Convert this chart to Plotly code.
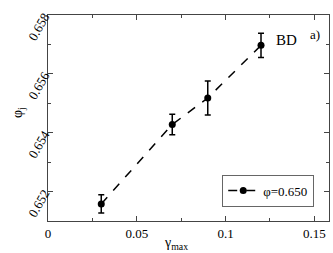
import plotly.graph_objects as go

gamma_max = [0.03, 0.07, 0.09, 0.12]
phi_j = [0.65158, 0.65428, 0.65518, 0.65697]
phi_err = [0.00031, 0.00035, 0.00058, 0.00041]
series_name = "\u03c6=0.650"

FAM = "Liberation Serif"
font = dict(family=FAM, size=13, color="black")

fig = go.Figure()
fig.add_trace(go.Scatter(
    x=gamma_max, y=phi_j, mode="lines+markers", name=series_name,
    line=dict(color="black", width=1.5, dash="dash"),
    marker=dict(color="black", size=7),
    error_y=dict(type="data", array=phi_err, color="black", thickness=1.5, width=3),
))

axis_common = dict(
    showline=True, linecolor="#444", linewidth=1, mirror="allticks",
    ticks="inside", ticklen=5, tickcolor="#444", showgrid=False, zeroline=False,
    tickfont=dict(family=FAM, size=13, color="#000000"), automargin=False,
)
fig.update_xaxes(range=[0, 0.1583], tickvals=[0, 0.05, 0.1, 0.15],
                 ticktext=["0", "0.05", "0.1", "0.15"],
                 minor=dict(ticks="inside", ticklen=3, dtick=0.025, tick0=0, tickcolor="#444"),
                 **axis_common)
fig.update_yaxes(range=[0.651, 0.658], tickvals=[0.652, 0.654, 0.656, 0.658],
                 ticktext=["0.652", "0.654", "0.656", "0.658"], tickangle=-60,
                 minor=dict(ticks="inside", ticklen=3, dtick=0.001, tick0=0.651, tickcolor="#444"),
                 **axis_common)

# axis titles
fig.add_annotation(x=0.455, y=-0.06, xref="paper", yref="paper", text="\u03b3<sub>max</sub>",
                   showarrow=False, font=dict(family=FAM, size=14, color="black"),
                   xanchor="center", yanchor="top")
fig.add_annotation(x=-0.065, y=0.525, xref="paper", yref="paper", text="\u03c6<sub>j</sub>",
                   showarrow=False, font=dict(family=FAM, size=14, color="black"), textangle=-90,
                   xanchor="right", yanchor="middle")

fig.add_annotation(x=0.847, y=0.925, xref="paper", yref="paper", text="BD", showarrow=False,
                   font=dict(family=FAM, size=15, color="black"), xanchor="center", yanchor="top")
fig.add_annotation(x=0.975, y=0.95, xref="paper", yref="paper", text="a)", showarrow=False,
                   font=dict(family=FAM, size=13, color="black"), xanchor="right", yanchor="top")

fig.update_layout(
    width=333, height=253, margin=dict(l=48, r=4, t=15, b=32, autoexpand=False),
    plot_bgcolor="white", paper_bgcolor="white", font=font,
    showlegend=True,
    legend=dict(x=0.62, y=0.225, xanchor="left", yanchor="top", bordercolor="#666", borderwidth=1,
                bgcolor="white", font=dict(family=FAM, size=13, color="black"),
                itemwidth=30, tracegroupgap=0),
)
fig.write_html("out.html", config={"displayModeBar": False},
               post_script="document.body.style.margin='0';document.body.style.padding='0';")
